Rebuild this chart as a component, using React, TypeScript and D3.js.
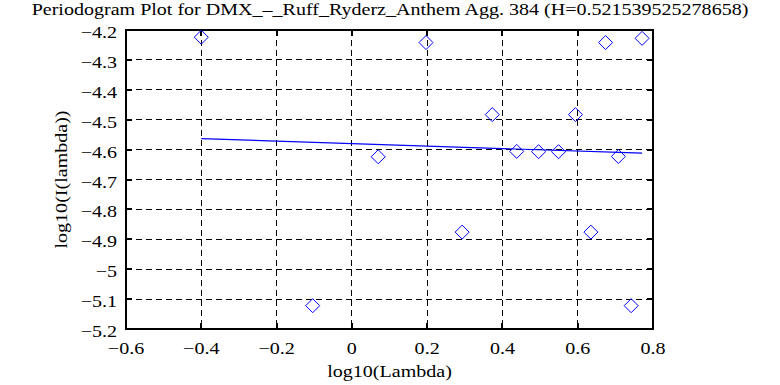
import React from 'react';
import * as d3 from 'd3';

const title = 'Periodogram Plot for DMX_\u2013_Ruff_Ryderz_Anthem Agg. 384 (H=0.521539525278658)';
const xLabel = 'log10(Lambda)';
const yLabel = 'log10(I(lambda))';

// log10 frequencies and log10 periodogram values
const logLambda = [-0.40, -0.104, 0.07, 0.197, 0.293, 0.373, 0.438, 0.496, 0.549, 0.594, 0.635, 0.674, 0.708, 0.742, 0.771];
const logI = [-4.224, -5.122, -4.624, -4.242, -4.876, -4.483, -4.606, -4.607, -4.607, -4.483, -4.876, -4.242, -4.623, -5.122, -4.228];

// least-squares fit end points
const fitX = [-0.40, 0.771];
const fitY = [-4.563, -4.612];

const xTicks = [-0.6, -0.4, -0.2, 0, 0.2, 0.4, 0.6, 0.8];
const yTicks = [-4.2, -4.3, -4.4, -4.5, -4.6, -4.7, -4.8, -4.9, -5, -5.1, -5.2];

const W = 780;
const H = 385;
const margin = { top: 30, right: 127, bottom: 56, left: 126 };
const font = '"Liberation Serif", "Times New Roman", serif';
const stretch = 1.18; // the original's serif face is wider than Liberation Serif

const fmt = (v: number) => {
  const s = String(Math.round(v * 10) / 10);
  return s.replace('-', '\u2212');
};

export default function App() {
  const ref = React.useRef<SVGSVGElement>(null);

  React.useEffect(() => {
    const svg = d3.select(ref.current);
    svg.selectAll('*').remove();

    const x = d3.scaleLinear().domain([-0.6, 0.8]).range([margin.left, W - margin.right]);
    const y = d3.scaleLinear().domain([-5.2, -4.2]).range([H - margin.bottom, margin.top]);
    const [x0, x1] = x.range();
    const [y1, y0] = y.range();

    const label = (tx: number, ty: number, txt: string, anchor: string, rot = 0, size = 17, sx = stretch) =>
      svg.append('text')
        .attr('transform', `translate(${tx},${ty})${rot ? ` rotate(${rot})` : ''} scale(${sx},1)`)
        .attr('text-anchor', anchor)
        .style('font-family', font)
        .style('font-size', `${size}px`)
        .text(txt);

    label(390, 15, title, 'middle', 0, 16.5, 1.215);

    // grid
    const grid = svg.append('g')
      .attr('stroke', '#000')
      .attr('stroke-width', 1)
      .attr('stroke-dasharray', '6,4')
      .attr('shape-rendering', 'crispEdges');
    grid.selectAll('.gx')
      .data(xTicks.slice(1, -1))
      .enter()
      .append('line')
      .attr('x1', d => x(d)).attr('x2', d => x(d))
      .attr('y1', y0).attr('y2', y1);
    grid.selectAll('.gy')
      .data(yTicks.slice(1, -1))
      .enter()
      .append('line')
      .attr('x1', x0).attr('x2', x1)
      .attr('y1', d => y(d)).attr('y2', d => y(d));

    // tick marks on all four sides
    const ticks = svg.append('g')
      .attr('stroke', '#000')
      .attr('stroke-width', 2)
      .attr('shape-rendering', 'crispEdges');
    xTicks.forEach(t => {
      ticks.append('line').attr('x1', x(t)).attr('x2', x(t)).attr('y1', y1).attr('y2', y1 - 6);
      ticks.append('line').attr('x1', x(t)).attr('x2', x(t)).attr('y1', y0).attr('y2', y0 + 6);
    });
    yTicks.forEach(t => {
      ticks.append('line').attr('x1', x0).attr('x2', x0 + 6).attr('y1', y(t)).attr('y2', y(t));
      ticks.append('line').attr('x1', x1).attr('x2', x1 - 6).attr('y1', y(t)).attr('y2', y(t));
    });

    svg.append('rect')
      .attr('x', x0).attr('y', y0)
      .attr('width', x1 - x0).attr('height', y1 - y0)
      .attr('fill', 'none')
      .attr('stroke', '#000')
      .attr('stroke-width', 2)
      .attr('shape-rendering', 'crispEdges');

    // tick labels
    xTicks.forEach(t => label(x(t), y1 + 25, fmt(t), 'middle'));
    yTicks.forEach(t => label(x0 - 9, y(t) + 8, fmt(t), 'end'));

    label((x0 + x1) / 2, 377, xLabel, 'middle');
    label(67, (y0 + y1) / 2, yLabel, 'middle', -90);

    // fit line
    svg.append('line')
      .attr('x1', x(fitX[0])).attr('y1', y(fitY[0]))
      .attr('x2', x(fitX[1])).attr('y2', y(fitY[1]))
      .attr('stroke', '#0000ff')
      .attr('stroke-width', 1.2);

    // diamonds
    const pts = d3.zip(logLambda, logI);
    svg.append('g')
      .selectAll('path')
      .data(pts)
      .enter()
      .append('path')
      .attr('d', d => {
        const cx = x(d[0]);
        const cy = y(d[1]);
        return `M${cx},${cy - 7}L${cx + 7},${cy}L${cx},${cy + 7}L${cx - 7},${cy}Z`;
      })
      .attr('fill', 'none')
      .attr('stroke', '#0000ff')
      .attr('stroke-width', 1);
  }, []);

  return (
    <svg
      ref={ref}
      width={W}
      height={H}
      style={{ position: 'absolute', left: 0, top: 0, background: '#fff' }}
    />
  );
}
